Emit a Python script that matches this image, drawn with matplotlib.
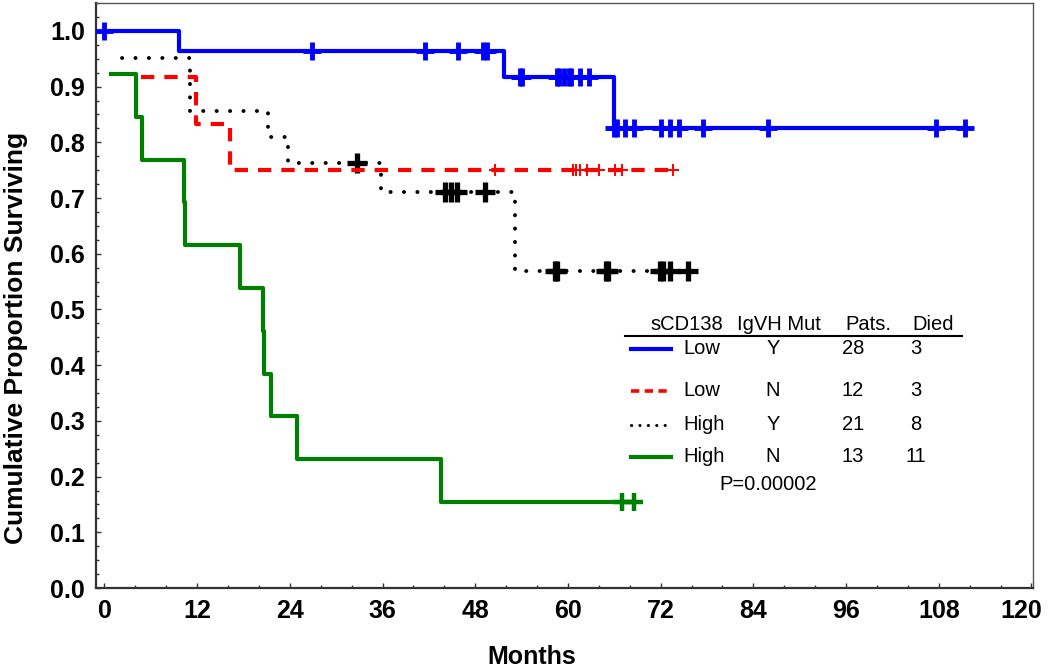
import numpy as np
import matplotlib
matplotlib.use('Agg')
import matplotlib.pyplot as plt
from matplotlib.lines import Line2D
from matplotlib.ticker import MultipleLocator, FormatStrFormatter
from matplotlib.transforms import ScaledTranslation

plt.rcParams['font.family'] = ['Liberation Sans', 'DejaVu Sans']

# ---------------- data ----------------
# step start times (months) and survival level after each step
blue_t = [0.0, 9.7, 51.7, 65.9]
blue_s = [1.0, 0.964, 0.918, 0.826]
blue_c = [0.0, 26.9, 41.5, 45.8, 49.0, 49.5, 53.8, 54.1, 58.6, 58.9, 59.5, 60.1,
          60.4, 61.5, 62.7, 66.0, 66.3, 67.4, 68.6, 72.1, 73.2, 74.4, 77.5, 85.9,
          107.7, 111.4]

red_t = [4.7, 11.9, 16.3]
red_s = [0.917, 0.833, 0.750]
red_c = [50.6, 60.7, 61.0, 61.6, 62.5, 64.0, 66.1, 67.0, 73.6]

black_t = [2.3, 11.1, 21.2, 23.8, 35.8, 53.1]
black_s = [0.952, 0.857, 0.810, 0.762, 0.711, 0.569]
black_c = [32.7, 44.1, 44.8, 45.6, 49.3, 58.3, 58.6, 64.9, 65.2, 71.9, 72.3,
           73.2, 75.6]

green_t = [0.8, 4.1, 4.9, 10.3, 10.4, 17.5, 20.5, 20.7, 21.5, 24.9, 43.6]
green_s = [0.923, 0.846, 0.769, 0.692, 0.615, 0.538, 0.462, 0.385, 0.308,
           0.231, 0.154]
green_c = [67.0, 68.5]

x_ticks = [0, 12, 24, 36, 48, 60, 72, 84, 96, 108, 120]
y_ticks = [0.0, 0.1, 0.2, 0.3, 0.4, 0.5, 0.6, 0.7, 0.8, 0.9, 1.0]

legend_header = ['sCD138', 'IgVH Mut', 'Pats.', 'Died']
legend_sCD138 = ['Low', 'Low', 'High', 'High']
legend_igvh = ['Y', 'N', 'Y', 'N']
legend_pats = ['28', '12', '21', '13']
legend_died = ['3', '3', '8', '11']
p_text = 'P=0.00002'

# ---------------- figure ----------------
W, H = 1050, 672
fig = plt.figure(figsize=(W / 100, H / 100), dpi=100)
fig.patch.set_facecolor('white')


def fx(x):
    return x / W


def fy(y):
    return 1 - y / H


ax = fig.add_axes([fx(96), fy(588), (1033 - 96) / W, (588 - 3) / H])
ax.set_xlim(-1.1, 120.2)
ax.set_ylim(0.0, 1.05)

styles = {
    'green': dict(color='#008000', lw=3.0, ls='-'),
    'black': dict(color='black', lw=2.8, ls=(0, (0.05, 3.4)),
                  dash_capstyle='round', solid_capstyle='round'),
    'red': dict(color='#FF0000', lw=3.0, ls=(0, (3.2, 2.4))),
    'blue': dict(color='#0000FF', lw=3.0, ls='-'),
}
mstyles = {
    'green': dict(ms=13, mew=3.2),
    'black': dict(ms=14, mew=3.8),
    'red': dict(ms=9, mew=1.4),
    'blue': dict(ms=13.5, mew=3.5),
}

groups = [
    ('green', green_t, green_s, green_c),
    ('black', black_t, black_s, black_c),
    ('red', red_t, red_s, red_c),
    ('blue', blue_t, blue_s, blue_c),
]

for z, (name, t, s, c) in enumerate(groups):
    t = np.asarray(t)
    s = np.asarray(s)
    c = np.asarray(c)
    x_end = max(c.max(), t[-1])
    xs = np.append(t, x_end)
    ys = np.append(s, s[-1])
    ax.step(xs, ys, where='post', zorder=3 + z, **styles[name])
    idx = np.searchsorted(t, c, side='right') - 1
    idx = np.clip(idx, 0, len(s) - 1)
    ax.plot(c, s[idx], ls='none', marker='+', color=styles[name]['color'],
            zorder=3 + z, **mstyles[name])

# ---------------- axes styling ----------------
ax.set_xticks(x_ticks)
ax.set_yticks(y_ticks)
ax.xaxis.set_minor_locator(MultipleLocator(4))
ax.yaxis.set_minor_locator(MultipleLocator(0.025))
ax.yaxis.set_major_formatter(FormatStrFormatter('%.1f'))
ax.tick_params(which='both', direction='in', top=False, right=False,
               color='#333333', width=1.0)
ax.tick_params(which='major', length=3.5, labelsize=18, pad=8)
ax.tick_params(which='minor', length=2.5)
for lab in ax.get_xticklabels() + ax.get_yticklabels():
    lab.set_fontweight('bold')
# keep the last x label inside the picture, as in the reference
last = ax.get_xticklabels()[-1]
last.set_transform(last.get_transform() +
                   ScaledTranslation(-10 / 100, 0, fig.dpi_scale_trans))

for side in ['left', 'bottom']:
    ax.spines[side].set_linewidth(1.6)
    ax.spines[side].set_color('#333333')
for side in ['top', 'right']:
    ax.spines[side].set_linewidth(1.0)
    ax.spines[side].set_color('#555555')

fig.text(fx(16), fy(338), 'Cumulative Proportion Surviving', rotation=90,
         ha='center', va='center', fontsize=19, fontweight='bold')
fig.text(fx(532), fy(657), 'Months', ha='center', va='center',
         fontsize=18, fontweight='bold')

# ---------------- legend table ----------------
fs = 14.5
hdr_y = 324
for txt, xl in zip(legend_header, [650, 737, 845, 912]):
    fig.text(fx(xl), fy(hdr_y), txt, ha='left', va='center', fontsize=fs)
fig.add_artist(Line2D([fx(625), fx(962)], [fy(336), fy(336)],
                      transform=fig.transFigure, color='black', lw=1.5))

row_y = [349, 391, 425, 457]
leg_styles = [
    dict(color='#0000FF', lw=3.0, ls='-'),
    dict(color='#FF0000', lw=2.6, ls=(0, (2.3, 1.5))),
    dict(color='black', lw=2.2, ls=(0, (0.05, 2.7)), dash_capstyle='round'),
    dict(color='#008000', lw=3.0, ls='-'),
]
for i, yy in enumerate(row_y):
    fig.add_artist(Line2D([fx(631), fx(671)], [fy(yy), fy(yy)],
                          transform=fig.transFigure, **leg_styles[i]))
    fig.text(fx(683), fy(yy), legend_sCD138[i], ha='left', va='center', fontsize=fs)
    fig.text(fx(773), fy(yy), legend_igvh[i], ha='center', va='center', fontsize=fs)
    fig.text(fx(853), fy(yy), legend_pats[i], ha='center', va='center', fontsize=fs)
    fig.text(fx(916), fy(yy), legend_died[i], ha='center', va='center', fontsize=fs)
fig.text(fx(768), fy(485), p_text, ha='center', va='center', fontsize=fs)

fig.savefig('out.png', dpi=100, facecolor='white')
